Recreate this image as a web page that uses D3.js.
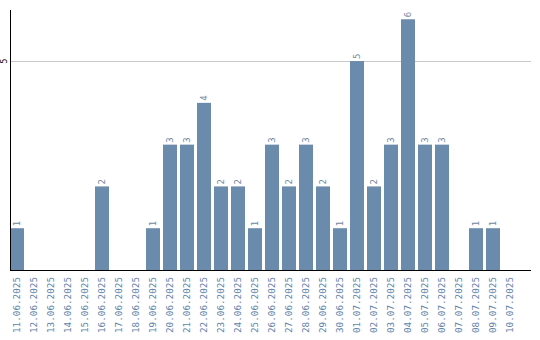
<!DOCTYPE html>
<html>
<head>
<meta charset="utf-8">
<script src="https://cdn.jsdelivr.net/npm/d3@7"></script>
<style>
  body { margin: 0; background: #fff; }
  svg text { font-family: "DejaVu Sans Mono", monospace; }
</style>
</head>
<body>
<svg id="chart" width="540" height="340"></svg>
<script>
// dates on the x axis
var dates = ["11.06.2025", "12.06.2025", "13.06.2025", "14.06.2025", "15.06.2025",
  "16.06.2025", "17.06.2025", "18.06.2025", "19.06.2025", "20.06.2025",
  "21.06.2025", "22.06.2025", "23.06.2025", "24.06.2025", "25.06.2025",
  "26.06.2025", "27.06.2025", "28.06.2025", "29.06.2025", "30.06.2025",
  "01.07.2025", "02.07.2025", "03.07.2025", "04.07.2025", "05.07.2025",
  "06.07.2025", "07.07.2025", "08.07.2025", "09.07.2025", "10.07.2025"];
// counts per day
var counts = [1, 0, 0, 0, 0, 2, 0, 0, 1, 3, 3, 4, 2, 2, 1, 3, 2, 3, 2, 1, 5, 2, 3, 6, 3, 3, 0, 1, 1, 0];
var yTicks = [5];

var svg = d3.select("#chart"),
    mLeft = 10, mTop = 10, mBottom = 270, mRight = 531;

var x = d3.scaleBand()
    .domain(dates)
    .range([mLeft, 517])
    .paddingInner(3 / 17)
    .paddingOuter(0);

var y = d3.scaleLinear()
    .domain([0, d3.max(counts) * 1.037])
    .range([mBottom, mTop]);

var barColor = "#6a8bab";

// grid line
svg.append("g")
    .selectAll("line")
    .data(yTicks)
    .enter()
    .append("line")
    .attr("x1", mLeft)
    .attr("x2", mRight)
    .attr("y1", function (d) { return Math.round(y(d)) + 0.5; })
    .attr("y2", function (d) { return Math.round(y(d)) + 0.5; })
    .attr("stroke", "#c8c8c8");

// y tick labels
svg.append("g")
    .selectAll("text")
    .data(yTicks)
    .enter()
    .append("text")
    .attr("transform", function (d) { return "translate(4," + y(d) + ") rotate(-90)"; })
    .attr("text-anchor", "middle")
    .attr("dy", "0.35em")
    .attr("font-size", "8px")
    .attr("fill", "#000")
    .text(function (d) { return d; });

// bars
var data = dates.map(function (d, i) { return { date: d, v: counts[i] }; });

svg.append("g")
    .selectAll("rect")
    .data(data.filter(function (d) { return d.v > 0; }))
    .enter()
    .append("rect")
    .attr("x", function (d) { return x(d.date); })
    .attr("width", x.bandwidth())
    .attr("y", function (d) { return y(d.v); })
    .attr("height", function (d) { return mBottom - y(d.v); })
    .attr("fill", barColor);

// value labels
svg.append("g")
    .selectAll("text")
    .data(data.filter(function (d) { return d.v > 0; }))
    .enter()
    .append("text")
    .attr("transform", function (d) {
        return "translate(" + (x(d.date) + x.bandwidth() / 2) + "," + (y(d.v) - 2) + ") rotate(-90)";
    })
    .attr("dy", "0.35em")
    .attr("font-size", "9px")
    .attr("fill", "#6f889f")
    .text(function (d) { return d.v; });

// axes lines
svg.append("line")
    .attr("x1", mLeft + 0.5).attr("x2", mLeft + 0.5)
    .attr("y1", mTop).attr("y2", mBottom)
    .attr("stroke", "#000");
svg.append("line")
    .attr("x1", mLeft).attr("x2", mRight)
    .attr("y1", mBottom + 0.5).attr("y2", mBottom + 0.5)
    .attr("stroke", "#000");

// x labels
svg.append("g")
    .selectAll("text")
    .data(dates)
    .enter()
    .append("text")
    .attr("transform", function (d) {
        return "translate(" + (x(d) + x.bandwidth() / 2) + ",277) rotate(-90)";
    })
    .attr("text-anchor", "end")
    .attr("dy", "0.35em")
    .attr("font-size", "9.3px")
    .attr("fill", "#5f84aa")
    .text(function (d) { return d; });
</script>
</body>
</html>
